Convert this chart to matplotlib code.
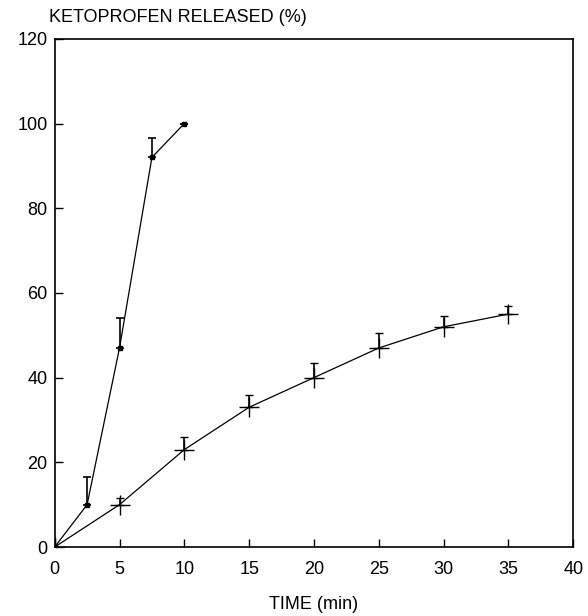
import numpy as np
import matplotlib
matplotlib.use("Agg")
import matplotlib.pyplot as plt

plt.rcParams["font.family"] = ["Liberation Sans", "DejaVu Sans"]

# fast release formulation
fast_t = [0, 2.5, 5, 7.5, 10]
fast_y = [0, 10, 47, 92, 100]
fast_err = [0, 6.5, 7, 4.5, 0]

# slow release formulation
slow_t = [0, 5, 10, 15, 20, 25, 30, 35]
slow_y = [0, 10, 23, 33, 40, 47, 52, 55]
slow_err = [0, 1.5, 3, 3, 3.5, 3.5, 2.5, 2]

fig = plt.figure(figsize=(5.88, 6.16), dpi=100)
ax = fig.add_axes([0.093, 0.112, 0.882, 0.825])

# upper error bars only
ax.errorbar(fast_t, fast_y, yerr=[np.zeros(len(fast_err)), fast_err], fmt="s-",
            color="black", ms=3.5, lw=0.9, elinewidth=1.2, capsize=3, capthick=1.2)
ax.errorbar(slow_t, slow_y, yerr=[np.zeros(len(slow_err)), slow_err], fmt="+-",
            color="black", ms=14, mew=1.0, lw=0.9, elinewidth=1.2, capsize=3, capthick=1.2)

ax.set_xlim(0, 40)
ax.set_ylim(0, 120)
ax.set_xticks(range(0, 41, 5))
ax.set_yticks(range(0, 121, 20))
ax.tick_params(direction="in", length=6, width=1, labelsize=13, top=False, right=False)
ax.tick_params(axis="x", pad=10)
ax.tick_params(axis="y", pad=5)
for s in ax.spines.values():
    s.set_linewidth(1.2)

ax.set_xlabel("TIME (min)", fontsize=13, labelpad=13)
ax.text(-0.01, 1.025, "KETOPROFEN RELEASED (%)", transform=ax.transAxes,
        fontsize=13, ha="left", va="bottom")

fig.savefig("out.png", dpi=100)
